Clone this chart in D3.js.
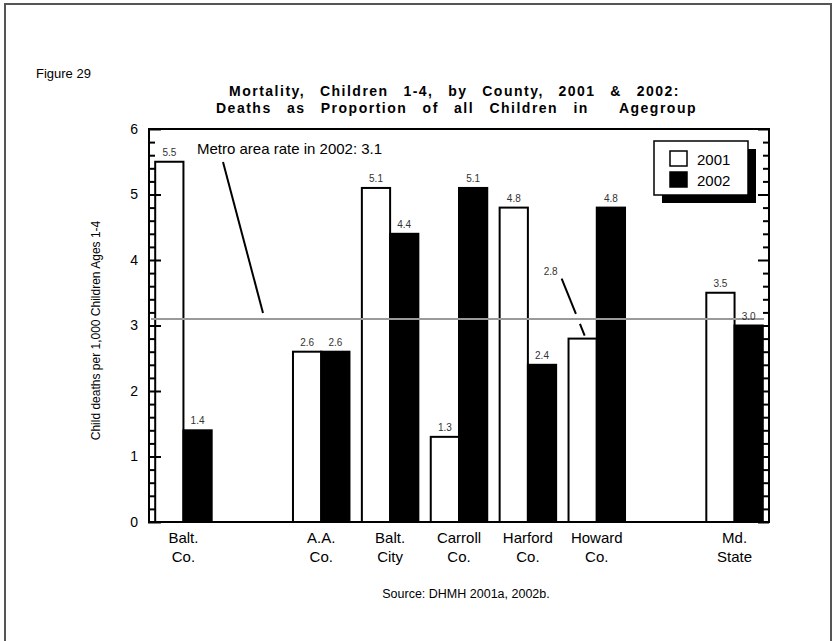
<!DOCTYPE html>
<html>
<head>
<meta charset="utf-8">
<script src="https://cdn.jsdelivr.net/npm/d3@7/dist/d3.min.js"></script>
<style>
  html, body { margin: 0; padding: 0; background: #fff; }
  svg { display: block; }
  text { font-family: "Liberation Sans", Arial, Helvetica, sans-serif; fill: #000; }
</style>
</head>
<body>
<svg id="chart" width="833" height="641"></svg>
<script>
// County mortality, children aged 1-4, deaths per 1,000 children
const categories = ["Balt. Co.", "A.A. Co.", "Balt. City", "Carroll Co.", "Harford Co.", "Howard Co.", "Md. State"];
const values2001 = [5.5, 2.6, 5.1, 1.3, 4.8, 2.8, 3.5];
const values2002 = [1.4, 2.6, 4.4, 5.1, 2.4, 4.8, 3.0];
const seriesNames = ["2001", "2002"];
const yTicks = [0, 1, 2, 3, 4, 5, 6];
const metroRate = 3.1;
// Category slots along the axis; the gap entries leave empty space
const slots = ["Balt. Co.", "gap-a", "A.A. Co.", "Balt. City", "Carroll Co.", "Harford Co.", "Howard Co.", "gap-b", "Md. State"];

const svg = d3.select("#chart");
const W = 833, H = 641;
const plot = { left: 149, right: 769, top: 129, bottom: 522 };

// Page frame (top, left, right)
svg.append("path")
  .attr("d", `M5,${H} L5,4 L831,4 L831,${H}`)
  .attr("fill", "none").attr("stroke", "#555").attr("stroke-width", 2);

const x = d3.scaleBand(slots, [plot.left, plot.right]);
const y = d3.scaleLinear([0, 6], [plot.bottom, plot.top]);
const barW = x.bandwidth() * 0.41;

// Figure label and title
svg.append("text").attr("x", 36).attr("y", 78).attr("font-size", 13).text("Figure 29");

function fitTitle(str, yPos, x0, x1) {
  const t = svg.append("text")
    .attr("x", (x0 + x1) / 2).attr("y", yPos)
    .attr("text-anchor", "middle")
    .attr("font-size", 14).attr("font-weight", "bold")
    .attr("letter-spacing", 1.5)
    .style("white-space", "pre")
    .text(str);
  const natural = t.node().getComputedTextLength();
  const spaces = (str.match(/ /g) || []).length;
  if (spaces > 0) t.attr("word-spacing", Math.max(0, (x1 - x0 - natural) / spaces));
}
fitTitle("Mortality, Children 1-4, by County, 2001 & 2002:", 96, 229, 680);
fitTitle("Deaths as Proportion of all Children in  Agegroup", 112.5, 216, 697);

// Y axis title
svg.append("text")
  .attr("transform", `translate(100,${(plot.top + plot.bottom) / 2 + 5}) rotate(-90)`)
  .attr("text-anchor", "middle").attr("font-size", 12)
  .text("Child deaths per 1,000 Children Ages 1-4");

const yMetro = y(metroRate);

// Bars
const data = categories.map((c, i) => ({ cat: c, v: [values2001[i], values2002[i]] }));
const groups = svg.append("g").selectAll("g").data(data).join("g")
  .attr("transform", d => `translate(${x(d.cat) + x.bandwidth() / 2},0)`);

groups.selectAll("rect").data(d => d.v.map((v, k) => ({ v, k, cat: d.cat }))).join("rect")
  .attr("x", d => d.k === 0 ? -barW : 0)
  .attr("y", d => y(d.v))
  .attr("width", barW)
  .attr("height", d => y(0) - y(d.v))
  .attr("fill", d => d.k === 0 ? "#fff" : "#000")
  .attr("stroke", "#000").attr("stroke-width", 2);

// Metro reference line (beneath the bar value labels)
svg.append("line")
  .attr("x1", plot.left + 2).attr("x2", plot.right - 5)
  .attr("y1", yMetro).attr("y2", yMetro)
  .attr("stroke", "#9a9a9a").attr("stroke-width", 2);

// Value labels (Howard Co. 2001 is placed off to the side with a leader)
const labels = svg.append("g").selectAll("g").data(data).join("g")
  .attr("transform", d => `translate(${x(d.cat) + x.bandwidth() / 2},0)`);
labels.selectAll("text").data(d => d.v.map((v, k) => ({ v, k, cat: d.cat }))).join("text")
  .attr("x", d => d.k === 0 ? -barW / 2 : barW / 2)
  .attr("y", d => y(d.v) - 6)
  .attr("text-anchor", "middle").attr("font-size", 10).style("fill", "#333")
  .each(function (d) {
    if (d.cat === "Howard Co." && d.k === 0) {
      d3.select(this).attr("x", -barW / 2 - 32).attr("y", y(d.v) - 64);
    }
  })
  .text(d => d.v.toFixed(1));

// Leader for the Howard Co. 2001 label, broken where it crosses the reference line
{
  const cx = x("Howard Co.") + x.bandwidth() / 2 - barW / 2;
  const p0 = [cx - 21, y(2.8) - 60], p1 = [cx + 2, y(2.8) - 3];
  const at = yy => [p0[0] + (p1[0] - p0[0]) * (yy - p0[1]) / (p1[1] - p0[1]), yy];
  const a = at(yMetro - 5), b = at(yMetro + 5);
  svg.append("line").attr("x1", p0[0]).attr("y1", p0[1]).attr("x2", a[0]).attr("y2", a[1])
    .attr("stroke", "#000").attr("stroke-width", 2);
  svg.append("line").attr("x1", b[0]).attr("y1", b[1]).attr("x2", p1[0]).attr("y2", p1[1])
    .attr("stroke", "#000").attr("stroke-width", 2);
}

// Metro annotation
svg.append("text").attr("x", 197).attr("y", 154).attr("font-size", 15)
  .text(`Metro area rate in 2002: ${metroRate}`);
svg.append("line")
  .attr("x1", 223).attr("y1", 162).attr("x2", 263).attr("y2", yMetro - 6)
  .attr("stroke", "#000").attr("stroke-width", 2);

// Axes: major and minor ticks pointing into the plot on both sides
const minorTicks = d3.range(0, 6.001, 0.2).filter(v => Math.abs(v - Math.round(v)) > 1e-6);
function styleAxis(g) {
  g.select(".domain").remove();
  g.selectAll(".tick line").attr("stroke", "#000").attr("stroke-width", 2);
}
svg.append("g").attr("transform", `translate(${plot.left},0)`)
  .call(d3.axisLeft(y).tickValues(minorTicks).tickSize(-6).tickFormat(""))
  .call(styleAxis);
svg.append("g").attr("transform", `translate(${plot.left},0)`)
  .call(d3.axisLeft(y).tickValues(yTicks).tickSizeInner(-12).tickSizeOuter(0).tickPadding(11).tickFormat(d3.format("d")))
  .call(styleAxis)
  .call(g => g.selectAll(".tick line").attr("x1", -1))
  .call(g => g.selectAll(".tick text").attr("font-size", 14).attr("font-family", null));
svg.append("g").attr("transform", `translate(${plot.right},0)`)
  .call(d3.axisRight(y).tickValues(minorTicks).tickSize(-6).tickFormat(""))
  .call(styleAxis);
svg.append("g").attr("transform", `translate(${plot.right},0)`)
  .call(d3.axisRight(y).tickValues(yTicks).tickSize(-11).tickFormat(""))
  .call(styleAxis);

// Category labels, two lines each
const xAxis = svg.append("g").attr("transform", `translate(0,${plot.bottom})`)
  .call(d3.axisBottom(x).tickValues(categories).tickSize(0).tickFormat(""));
xAxis.select(".domain").remove();
xAxis.selectAll(".tick").each(function (d) {
  const parts = [d.slice(0, d.indexOf(" ")), d.slice(d.indexOf(" ") + 1)];
  const t = d3.select(this).append("text")
    .attr("text-anchor", "middle").attr("font-size", 15).style("fill", "#000");
  parts.forEach((p, i) => t.append("tspan").attr("x", 0).attr("y", 21 + i * 18.5).text(p));
});

// Plot frame
svg.append("rect")
  .attr("x", plot.left).attr("y", plot.top)
  .attr("width", plot.right - plot.left).attr("height", plot.bottom - plot.top)
  .attr("fill", "none").attr("stroke", "#000").attr("stroke-width", 2);

// Legend with drop shadow
const lg = svg.append("g").attr("transform", "translate(654,141)");
lg.append("rect").attr("x", 8).attr("y", 8).attr("width", 94).attr("height", 54).attr("fill", "#000");
lg.append("rect").attr("x", 0).attr("y", 0).attr("width", 94).attr("height", 54)
  .attr("fill", "#fff").attr("stroke", "#000").attr("stroke-width", 1.5);
seriesNames.forEach((s, i) => {
  lg.append("rect").attr("x", 16).attr("y", 10 + i * 21).attr("width", 17).attr("height", 15)
    .attr("fill", i === 0 ? "#fff" : "#000").attr("stroke", "#000").attr("stroke-width", 1.5);
  lg.append("text").attr("x", 43).attr("y", 24 + i * 21).attr("font-size", 15).text(s);
});

// Source note
svg.append("text").attr("x", 466).attr("y", 598).attr("text-anchor", "middle")
  .attr("font-size", 12.5).text("Source: DHMH 2001a, 2002b.");
</script>
</body>
</html>
